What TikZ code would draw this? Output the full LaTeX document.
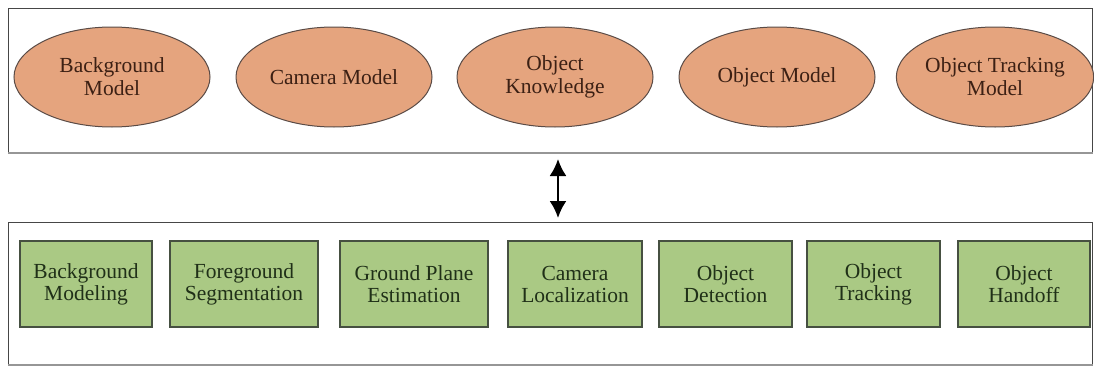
\documentclass[tikz,border=0pt]{standalone}
\usepackage{fontspec}
\setmainfont{Liberation Serif}
\usetikzlibrary{shapes.geometric,arrows.meta}
\definecolor{ellfill}{RGB}{229,164,126}
\definecolor{ellline}{RGB}{90,75,70}
\definecolor{ellText}{RGB}{60,32,20}
\definecolor{boxfill}{RGB}{170,201,132}
\definecolor{boxline}{RGB}{70,80,65}
\definecolor{boxText}{RGB}{32,48,24}
\definecolor{panelline}{RGB}{70,70,70}
\definecolor{shadowline}{RGB}{150,150,150}
\tikzset{
  panel/.style={draw=panelline, line width=1pt, fill=white},
  shadowedge/.style={draw=shadowline, line width=2.5pt},
  model/.style={ellipse, draw=ellline, line width=1pt, fill=ellfill,
    minimum width=196pt, minimum height=100pt, inner sep=0pt,
    text=ellText, align=center,
    font=\fontsize{21.5}{23}\selectfont},
  task/.style={rectangle, draw=boxline, line width=1.1pt, fill=boxfill,
    minimum height=86pt, inner sep=0pt,
    text=boxText, align=center,
    font=\fontsize{21.5}{22}\selectfont},
  link/.style={{Latex[length=17pt,width=17pt]}-{Latex[length=17pt,width=17pt]}, line width=2.2pt, black}
}
\begin{document}
\begin{tikzpicture}[x=1pt,y=-1pt]
\useasboundingbox (0,0) rectangle (1094,367);
% panels
\node[panel, rectangle, minimum width=1084pt, minimum height=144pt, inner sep=0pt, anchor=north west] (toppanel) at (8,8) {};
\draw[shadowedge] (toppanel.south west) -- (toppanel.south east);
\node[panel, rectangle, minimum width=1084pt, minimum height=142pt, inner sep=0pt, anchor=north west] (botpanel) at (8,222) {};
\draw[shadowedge] (botpanel.south west) -- (botpanel.south east);
% ellipses
\node[model] (bgm) at (112,77) {Background\\Model};
\node[model] (cam) at (334,77) {Camera Model};
\node[model] (okn) at (555,77) {Object\\Knowledge};
\node[model] (om) at (777,77) {Object Model};
\node[model, minimum width=190pt] (otm) at (995,77) {Object Tracking\\Model};
% boxes
\node[task, minimum width=132pt] (bmod) at (86,284) {Background\\Modeling};
\node[task, minimum width=148pt] (fseg) at (244,284) {Foreground\\Segmentation};
\node[task, minimum width=148pt] (gpe) at (414,284) {Ground Plane\\Estimation};
\node[task, minimum width=134pt] (cloc) at (575,284) {Camera\\Localization};
\node[task, minimum width=133pt] (odet) at (725.5,284) {Object\\Detection};
\node[task, minimum width=133pt] (otrk) at (873.5,284) {Object\\Tracking};
\node[task, minimum width=132pt] (ohand) at (1024,284) {Object\\Handoff};
% arrow
\coordinate (aTop) at (558,159);
\coordinate (aBot) at (558,218);
\draw[link] (aTop) -- (aBot);
\end{tikzpicture}
\end{document}
